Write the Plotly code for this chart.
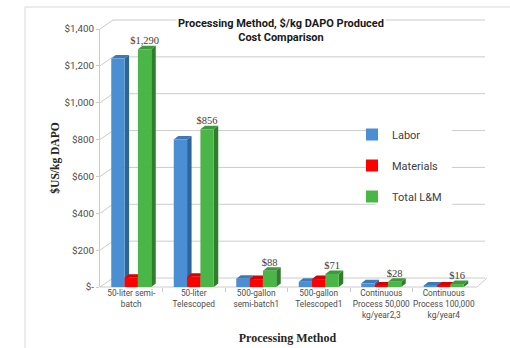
import plotly.graph_objects as go

# ---- data ----
categories = [
    "50-liter semi-<br>batch",
    "50-liter<br>Telescoped",
    "500-gallon<br>semi-batch1",
    "500-gallon<br>Telescoped1",
    "Continuous<br>Process 50,000<br>kg/year2,3",
    "Continuous<br>Process 100,000<br>kg/year4",
]
labor = [1240, 800, 45, 28, 20, 8]
materials = [50, 56, 43, 43, 8, 8]
total_lm = [1290, 856, 88, 71, 28, 16]

y_ticks = [0, 200, 400, 600, 800, 1000, 1200, 1400]
y_ticklabels = ["$-", "$200", "$400", "$600", "$800", "$1,000", "$1,200", "$1,400"]

series_names = ["Labor", "Materials", "Total L&M"]
face_colors = ["#4a8fd4", "#ff0000", "#4bb648"]
side_colors = ["#2e6598", "#b80000", "#2f7d2d"]
top_colors = ["#3b79b8", "#d80000", "#3d9a3a"]

# ---- geometry of the figure (pixels) ----
W, H = 510, 348
L, R, T, B = 100, 35, 29, 61
PW, PH = W - L - R, H - T - B
Y_MAX = 1400
BARGAP = 0.36
DEPTH_X, DEPTH_Y = 4.5, 3.5       # bar depth in px
WALL_X, WALL_Y = 13, 9            # back wall offset in px

def xp(px):
    return (px - L) / PW

def yp(py):
    return (H - B - py) / PH

def v2py(v):
    return H - B - v / Y_MAX * PH

grid_col = "#cccccc"
shapes = []

# outer chart frame
shapes.append(dict(type="line", xref="paper", yref="paper", x0=xp(25), x1=xp(25),
                   y0=yp(7), y1=yp(H + 5), line=dict(color="#d9d9d9", width=1), layer="below"))
shapes.append(dict(type="line", xref="paper", yref="paper", x0=xp(25), x1=xp(W + 5),
                   y0=yp(7), y1=yp(7), line=dict(color="#d9d9d9", width=1), layer="below"))

# back wall gridlines and side wall diagonals
for v in y_ticks:
    fy = v2py(v)
    by = fy - WALL_Y
    shapes.append(dict(type="line", xref="paper", yref="paper",
                       x0=xp(L + WALL_X), x1=xp(L + PW + 10), y0=yp(by), y1=yp(by),
                       line=dict(color=grid_col, width=1), layer="below"))
    shapes.append(dict(type="line", xref="paper", yref="paper",
                       x0=xp(L), x1=xp(L + WALL_X), y0=yp(fy), y1=yp(by),
                       line=dict(color=grid_col, width=1), layer="below"))

# floor front edge and right edge
shapes.append(dict(type="line", xref="paper", yref="paper", x0=xp(L), x1=xp(L + PW + 2),
                   y0=yp(H - B), y1=yp(H - B), line=dict(color=grid_col, width=1), layer="below"))
shapes.append(dict(type="line", xref="paper", yref="paper", x0=xp(L + PW + 2), x1=xp(L + PW + 12),
                   y0=yp(H - B), y1=yp(H - B - WALL_Y), line=dict(color=grid_col, width=1), layer="below"))

# white patch behind the legend
shapes.append(dict(type="rect", xref="paper", yref="paper", x0=xp(375), x1=xp(452),
                   y0=yp(214), y1=yp(118), fillcolor="white", line=dict(width=0), layer="below"))

# 3D side and top faces of each bar, computed from the series values
bw = (1 - BARGAP) / 3
dx = DEPTH_X / (PW / len(categories))
dy = DEPTH_Y / PH * Y_MAX
for k, vals in enumerate([labor, materials, total_lm]):
    for i, v in enumerate(vals):
        xl = i + (k - 1) * bw - bw / 2
        xr = xl + bw
        side = f"M{xr},0 L{xr+dx},{dy} L{xr+dx},{v+dy} L{xr},{v} Z"
        top = f"M{xl},{v} L{xl+dx},{v+dy} L{xr+dx},{v+dy} L{xr},{v} Z"
        shapes.append(dict(type="path", xref="x", yref="y", path=side,
                           fillcolor=side_colors[k], line=dict(width=0), layer="below"))
        shapes.append(dict(type="path", xref="x", yref="y", path=top,
                           fillcolor=top_colors[k], line=dict(width=0), layer="below"))

fig = go.Figure()
x_idx = list(range(len(categories)))
for k, (name, vals) in enumerate(zip(series_names, [labor, materials, total_lm])):
    kw = {}
    if name == "Total L&M":
        kw = dict(texttemplate="$%{y:,}", textposition="outside", constraintext="none",
                  textfont=dict(family="Liberation Serif", size=10.5, color="#404040"),
                  cliponaxis=False)
    fig.add_trace(go.Bar(x=x_idx, y=vals, name=name, marker=dict(color=face_colors[k], line=dict(width=0)),
                         legendgroup=name, **kw))

fig.update_layout(
    width=W, height=H,
    margin=dict(l=L, r=R, t=T, b=B),
    paper_bgcolor="white", plot_bgcolor="rgba(0,0,0,0)",
    barmode="group", bargap=BARGAP, bargroupgap=0,
    font=dict(family="Roboto", color="#595959"),
    showlegend=True,
    legend=dict(x=xp(352), y=yp(120), xanchor="left", yanchor="top",
                bgcolor="rgba(0,0,0,0)", tracegroupgap=12,
                font=dict(family="Roboto", size=11, color="#404040")),
    shapes=shapes,
    xaxis=dict(range=[-0.5, len(categories) - 0.5], tickmode="array", tickvals=x_idx,
               ticktext=categories, showgrid=False, zeroline=False, showline=False,
               automargin=False,
               ticks="", tickfont=dict(family="Roboto", size=8.3, color="#4d4d4d"),
               minor=dict(tickvals=[i + 0.5 for i in x_idx[:-1]], ticks="outside", ticklen=4,
                          tickcolor=grid_col, showgrid=False),
               title=dict(text="<b>Processing Method</b>", standoff=14,
                          font=dict(family="Liberation Serif", size=12, color="#262626"))),
    yaxis=dict(range=[0, Y_MAX], tickmode="array", tickvals=y_ticks, ticktext=y_ticklabels,
               showgrid=False, zeroline=False, showline=True, linecolor=grid_col, linewidth=1,
               automargin=False,
               ticks="outside", ticklen=3, tickcolor=grid_col,
               tickfont=dict(family="Roboto", size=9.8, color="#4d4d4d"),
               title=dict(text="<b>$US/kg DAPO</b>", standoff=2,
                          font=dict(family="Liberation Serif", size=11.5, color="#262626"))),
    annotations=[dict(text="<b>Processing Method, $/kg DAPO Produced<br>Cost Comparison</b>",
                      xref="paper", yref="paper", x=xp(281), y=yp(30), xanchor="center", yanchor="middle",
                      showarrow=False, bgcolor="white", borderpad=1,
                      font=dict(family="Roboto", size=11, color="#1a1a1a"))],
)

fig.write_html("out.html")
